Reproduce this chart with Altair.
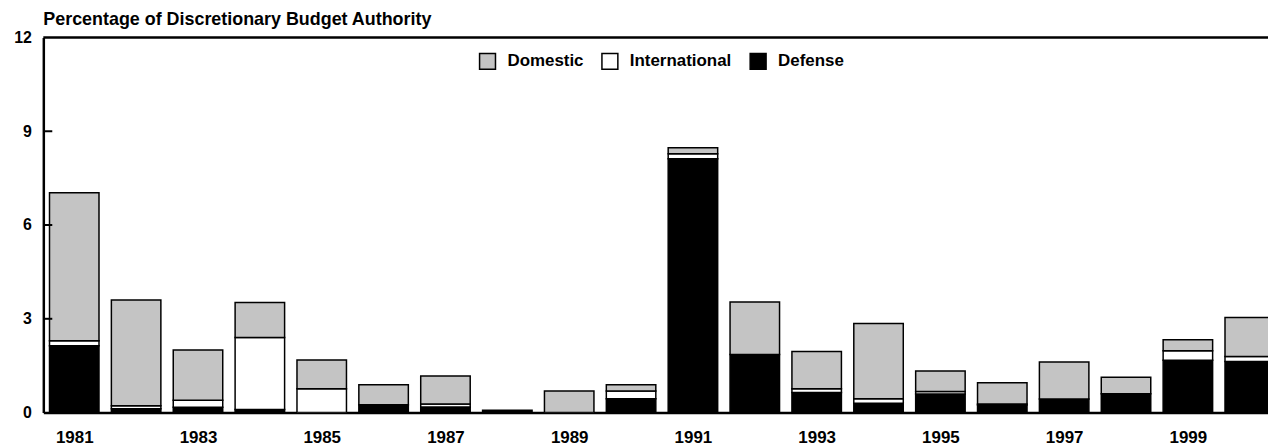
import altair as alt
import pandas as pd

years = list(range(1981, 2001))
defense = [2.14, 0.12, 0.17, 0.10, 0.00, 0.25, 0.18, 0.07, 0.00, 0.44,
           8.12, 1.86, 0.64, 0.30, 0.59, 0.24, 0.43, 0.60, 1.67, 1.63]
international = [0.16, 0.10, 0.22, 2.30, 0.76, 0.00, 0.09, 0.00, 0.00, 0.25,
                 0.16, 0.00, 0.12, 0.14, 0.08, 0.03, 0.00, 0.00, 0.31, 0.16]
domestic = [4.73, 3.38, 1.61, 1.12, 0.92, 0.64, 0.90, 0.00, 0.69, 0.20,
            0.19, 1.68, 1.19, 2.41, 0.66, 0.68, 1.19, 0.53, 0.35, 1.25]

categories = ["Domestic", "International", "Defense"]
colors = ["#c4c4c4", "#ffffff", "#000000"]
y_tick_values = [0, 3, 6, 9, 12]
inner_ticks = [3, 6, 9]
top_line = [12]
x_label_years = [1981, 1983, 1985, 1987, 1989, 1991, 1993, 1995, 1997, 1999]
title_text = "Percentage of Discretionary Budget Authority"

FONT = "Liberation Sans"

rows = []
for i, yr in enumerate(years):
    for cat, arr, order in (("Defense", defense, 0),
                            ("International", international, 1),
                            ("Domestic", domestic, 2)):
        rows.append({"year": yr, "category": cat, "value": arr[i], "order": order})
df = pd.DataFrame(rows)

x_scale = alt.Scale(domain=[1980.5, 2000.295], nice=False, zero=False)
y_scale = alt.Scale(domain=[0, 12], nice=False, zero=True)

y_axis = alt.Axis(values=y_tick_values, format="d", ticks=False, tickSize=0,
                  grid=False, domainColor="black", domainWidth=2.5,
                  labelFontSize=16, labelFont=FONT, labelFontWeight="bold",
                  labelColor="black", labelPadding=12, labelFlush=False)

bars = (
    alt.Chart(df)
    .transform_stack(stack="value", groupby=["year"], as_=["y0", "y1"],
                     sort=[alt.SortField("order", "ascending")])
    .transform_filter("datum.value > 0")
    .transform_calculate(x0="datum.year - 0.4", x1="datum.year + 0.4")
    .mark_bar(stroke="black", strokeWidth=1.5, clip=True)
    .encode(
        x=alt.X("x0:Q", scale=x_scale, title=None,
                axis=alt.Axis(values=x_label_years, format="d", ticks=False, tickSize=0,
                              grid=False, domainColor="black", domainWidth=2.5,
                              labelFontSize=17, labelFont=FONT, labelFontWeight="bold",
                              labelColor="black", labelPadding=17, labelFlush=False,
                              labelOverlap=False)),
        x2="x1:Q",
        y=alt.Y("y0:Q", scale=y_scale, title=None, axis=y_axis),
        y2="y1:Q",
        color=alt.Color("category:N",
                        scale=alt.Scale(domain=categories, range=colors),
                        legend=alt.Legend(title=None, orient="none", legendX=437.5, legendY=15,
                                          direction="horizontal", symbolType="square",
                                          symbolSize=256, symbolStrokeColor="black",
                                          symbolStrokeWidth=1.5, symbolOpacity=1,
                                          labelFontSize=17, labelFont=FONT,
                                          labelFontWeight="bold", labelColor="black",
                                          labelOffset=11, columnPadding=15, padding=0)),
    )
)

top = (
    alt.Chart(pd.DataFrame({"t": top_line}))
    .mark_rule(color="black", strokeWidth=2.5)
    .encode(y=alt.Y("t:Q", scale=y_scale, title=None, axis=y_axis))
)

ticks = (
    alt.Chart(pd.DataFrame({"t": inner_ticks}))
    .mark_rule(color="black", strokeWidth=2)
    .encode(y=alt.Y("t:Q", scale=y_scale, title=None, axis=y_axis),
            x=alt.value(0), x2=alt.value(9))
)

chart = (
    alt.layer(bars, top, ticks)
    .properties(
        width=1231, height=377,
        autosize=alt.AutoSizeParams(type="none"),
        padding={"left": 35.5, "top": 28.5, "right": 0, "bottom": 37},
        title=alt.TitleParams(title_text, anchor="start", frame="group", fontSize=18,
                              font=FONT, fontWeight="bold", color="black", offset=1),
    )
    .configure_view(stroke=None)
)

chart.save("out.html", embed_options={"renderer": "svg", "actions": False})
